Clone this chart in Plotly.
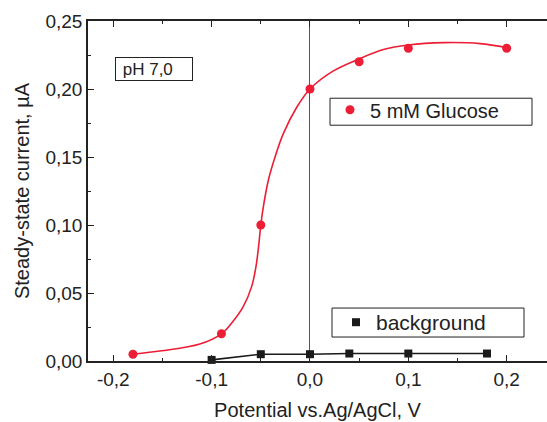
import plotly.graph_objects as go

# Data
glucose_x = [-0.18, -0.09, -0.05, 0.0, 0.05, 0.10, 0.20]
glucose_y = [0.005, 0.020, 0.100, 0.200, 0.220, 0.230, 0.230]

# fitted curve
fit_x = [-0.18, -0.151, -0.112, -0.09, -0.080, -0.068, -0.0594, -0.055, -0.0523, -0.05,
         -0.0475, -0.0424, -0.0356, -0.0272, -0.0136, 0.0, 0.0238, 0.0492, 0.0747,
         0.10, 0.136, 0.173, 0.20]
fit_y = [0.005, 0.0075, 0.0125, 0.020, 0.0276, 0.0398, 0.0545, 0.069, 0.0838, 0.100,
         0.113, 0.1327, 0.1498, 0.167, 0.1864, 0.200, 0.2133, 0.2219, 0.229,
         0.2324, 0.2341, 0.2334, 0.2304]

bg_x = [-0.10, -0.05, 0.0, 0.04, 0.10, 0.18]
bg_y = [0.0008, 0.005, 0.005, 0.0055, 0.0055, 0.0055]

x_ticks = [-0.2, -0.1, 0.0, 0.1, 0.2]
x_ticktext = ["-0,2", "-0,1", "0,0", "0,1", "0,2"]
y_ticks = [0.0, 0.05, 0.10, 0.15, 0.20, 0.25]
y_ticktext = ["0,00", "0,05", "0,10", "0,15", "0,20", "0,25"]

RED = "#EC1D34"
BLACK = "#1a1a1a"
FONT = "Liberation Sans, Arial, sans-serif"
NB = "\u00a0"

W, H = 547, 422
L, R, T, B = 88, 0, 20.7, 61
PW, PH = W - L - R, H - T - B


def px_x(p):
    return (p - L) / PW


def px_y(p):
    return (H - B - p) / PH


fig = go.Figure()
fig.add_trace(go.Scatter(x=fit_x, y=fit_y, mode="lines", line=dict(color=RED, width=1.6, shape="spline"),
                         showlegend=False, hoverinfo="skip"))
fig.add_trace(go.Scatter(x=bg_x, y=bg_y, mode="lines", line=dict(color=BLACK, width=1.6),
                         showlegend=False, hoverinfo="skip"))
fig.add_trace(go.Scatter(x=glucose_x, y=glucose_y, mode="markers", name="5 mM Glucose",
                         marker=dict(color=RED, size=9, symbol="circle"), cliponaxis=False,
                         legend="legend"))
fig.add_trace(go.Scatter(x=bg_x, y=bg_y, mode="markers", name="background",
                         marker=dict(color=BLACK, size=8, symbol="square"), cliponaxis=False,
                         legend="legend2"))

box_style = dict(type="rect", xref="paper", yref="paper", line=dict(color="#222", width=1),
                 fillcolor="rgba(0,0,0,0)", layer="above")

fig.update_layout(
    width=W, height=H,
    margin=dict(l=L, r=R, t=T, b=B, autoexpand=False),
    paper_bgcolor="white", plot_bgcolor="white",
    font=dict(family=FONT, size=19, color="#222"),
    legend=dict(x=px_x(330), y=px_y(90), xanchor="left", yanchor="top",
                borderwidth=0, bgcolor="rgba(0,0,0,0)",
                font=dict(size=20), itemwidth=30, tracegroupgap=0),
    legend2=dict(x=px_x(336), y=px_y(302), xanchor="left", yanchor="top",
                 borderwidth=0, bgcolor="rgba(0,0,0,0)",
                 font=dict(size=21), itemwidth=30, tracegroupgap=0),
    xaxis=dict(range=[-0.2257, 0.241], tickvals=x_ticks, ticktext=x_ticktext,
               ticks="inside", ticklen=6, tickwidth=1.3, tickcolor="#222",
               minor=dict(dtick=0.05, tick0=0, ticks="inside", ticklen=3, tickwidth=1.3, tickcolor="#222"),
               showline=True, linecolor="#222", linewidth=1.5, mirror="ticks",
               showgrid=False, zeroline=True, zerolinecolor="#555", zerolinewidth=1,
               tickfont=dict(size=19),
               title=dict(text="Potential vs.Ag/AgCl, V", font=dict(size=20), standoff=14)),
    yaxis=dict(range=[0, 0.25], tickvals=y_ticks, ticktext=y_ticktext,
               ticks="inside", ticklen=6, tickwidth=1.3, tickcolor="#222",
               minor=dict(dtick=0.025, tick0=0, ticks="inside", ticklen=3, tickwidth=1.3, tickcolor="#222"),
               showline=True, linecolor="#222", linewidth=1.5,
               showgrid=False, zeroline=False,
               tickfont=dict(size=19),
               title=dict(text="Steady-state current, µA", font=dict(size=20), standoff=10)),
    shapes=[
        dict(x0=px_x(330), x1=px_x(532), y0=px_y(125), y1=px_y(98), **box_style),
        dict(x0=px_x(332), x1=px_x(524), y0=px_y(337), y1=px_y(308), **box_style),
    ],
    annotations=[dict(xref="paper", yref="paper", x=px_x(115), y=px_y(57),
                      xanchor="left", yanchor="top", text=NB + "pH 7,0", showarrow=False,
                      font=dict(size=17, color="#222"), align="left",
                      bordercolor="#222", borderwidth=1, borderpad=2, width=72, height=18,
                      bgcolor="white")],
)

fig.write_html("out.html")
